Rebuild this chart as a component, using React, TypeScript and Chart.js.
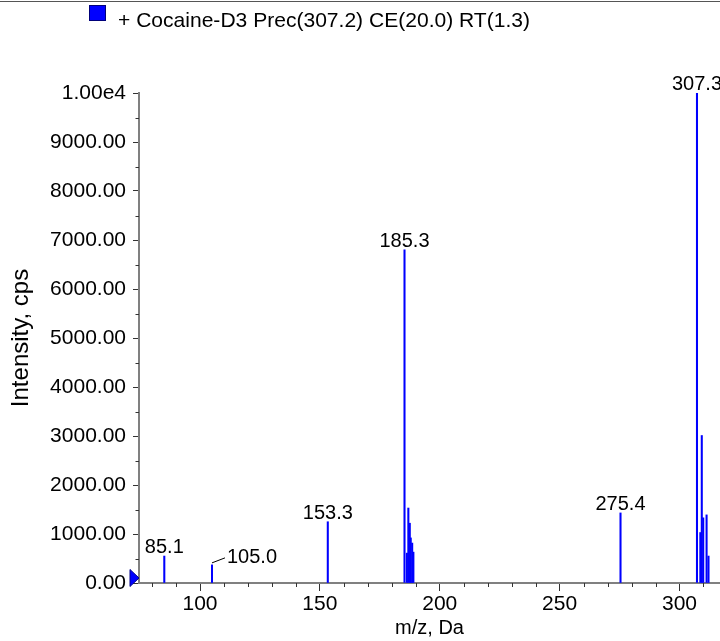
import { useEffect, useRef } from 'react';
import { Chart, registerables } from 'chart.js';

Chart.register(...registerables);

// Spectrum peaks (m/z, intensity in cps)
const mzValues = [85.1, 105.0, 153.3, 185.3, 186.3, 186.9, 187.5, 187.9, 188.5, 189.0, 275.4, 307.3, 308.7, 309.3, 309.9, 311.3, 312.1];
const intensities = [550, 370, 1250, 6800, 610, 1530, 1220, 920, 815, 630, 1430, 10000, 1030, 3010, 1330, 1390, 550];
const labeledPeaks = [85.1, 105.0, 153.3, 185.3, 275.4, 307.3];
const leaderLabelPeaks = [105.0];

const legendText = '+ Cocaine-D3 Prec(307.2) CE(20.0) RT(1.3)';
const xTitle = 'm/z, Da';
const yTitle = 'Intensity, cps';
const xMin = 74.55;
const xMax = 316.9;
const yMin = 0;
const yMax = 10000;
const xMajorStep = 50;
const xMinorStep = 10;
const yMajorStep = 1000;
const yMinorStep = 500;

const FONT = '"Liberation Sans", Arial, Helvetica, sans-serif';
const BLUE = '#0000ff';

function formatY(v: number): string {
  if (v >= 10000) return '1.00e4';
  return v.toFixed(2);
}

const decorPlugin = {
  id: 'decor',
  afterDraw(chart: any) {
    const ctx = chart.ctx as CanvasRenderingContext2D;
    const xs = chart.scales.x;
    const ys = chart.scales.y;
    const area = chart.chartArea;
    ctx.save();

    // top rule
    ctx.strokeStyle = '#555';
    ctx.lineWidth = 1;
    ctx.beginPath();
    ctx.moveTo(0, 1.5);
    ctx.lineTo(chart.width, 1.5);
    ctx.stroke();

    // legend swatch + text
    ctx.fillStyle = BLUE;
    ctx.fillRect(89, 5, 17, 16);
    ctx.strokeStyle = '#00007a';
    ctx.lineWidth = 1;
    ctx.strokeRect(89.5, 5.5, 16, 15);
    ctx.fillStyle = '#000';
    ctx.font = `21px ${FONT}`;
    ctx.textAlign = 'left';
    ctx.textBaseline = 'alphabetic';
    const w = ctx.measureText(legendText).width;
    const sx = 412 / w;
    ctx.save();
    ctx.translate(118, 27);
    ctx.scale(sx, 1);
    ctx.fillText(legendText, 0, 0);
    ctx.restore();

    // minor ticks
    ctx.strokeStyle = '#333';
    ctx.lineWidth = 1;
    ctx.beginPath();
    for (let v = Math.ceil(xMin / xMinorStep) * xMinorStep; v <= xMax; v += xMinorStep) {
      if (v % xMajorStep === 0) continue;
      const px = Math.round(xs.getPixelForValue(v)) + 0.5;
      ctx.moveTo(px, area.bottom);
      ctx.lineTo(px, area.bottom + 4);
    }
    for (let v = yMin; v <= yMax; v += yMinorStep) {
      if (v % yMajorStep === 0) continue;
      const py = Math.round(ys.getPixelForValue(v)) + 0.5;
      ctx.moveTo(area.left - 3.5, py);
      ctx.lineTo(area.left, py);
    }
    ctx.stroke();

    // zero marker triangle
    const y0 = ys.getPixelForValue(0) - 5;
    ctx.fillStyle = BLUE;
    ctx.strokeStyle = '#00008b';
    ctx.beginPath();
    ctx.moveTo(area.left - 9, y0 - 8.5);
    ctx.lineTo(area.left, y0);
    ctx.lineTo(area.left - 9, y0 + 8.5);
    ctx.closePath();
    ctx.fill();
    ctx.stroke();

    // peak labels
    ctx.font = `20px ${FONT}`;
    ctx.fillStyle = '#000';
    ctx.textBaseline = 'alphabetic';
    for (let i = 0; i < mzValues.length; i++) {
      const mz = mzValues[i];
      if (!labeledPeaks.includes(mz)) continue;
      const px = xs.getPixelForValue(mz);
      const py = ys.getPixelForValue(intensities[i]);
      const txt = mz.toFixed(1);
      if (leaderLabelPeaks.includes(mz)) {
        ctx.strokeStyle = '#000';
        ctx.lineWidth = 1;
        ctx.beginPath();
        ctx.moveTo(px, py - 2);
        ctx.lineTo(px + 13, py - 7);
        ctx.stroke();
        ctx.textAlign = 'left';
        ctx.fillText(txt, px + 15, py - 2);
      } else {
        ctx.textAlign = 'center';
        ctx.fillText(txt, px, py - 3);
      }
    }
    ctx.restore();
  },
};

export default function App() {
  const canvasRef = useRef<HTMLCanvasElement | null>(null);

  useEffect(() => {
    const canvas = canvasRef.current;
    if (!canvas) return;
    const points = mzValues.map((x, i) => ({ x, y: intensities[i] }));
    const chart = new Chart(canvas, {
      type: 'bar',
      data: {
        datasets: [
          {
            data: points as any,
            backgroundColor: BLUE,
            borderWidth: 0,
            barThickness: 1.4,
          },
        ],
      },
      options: {
        animation: false,
        responsive: false,
        maintainAspectRatio: false,
        devicePixelRatio: 1,
        events: [],
        layout: { padding: { top: 93, right: 0, left: 0, bottom: 0 } },
        plugins: {
          legend: { display: false },
          tooltip: { enabled: false },
          title: { display: false },
        },
        scales: {
          x: {
            type: 'linear',
            min: xMin,
            max: xMax,
            offset: false,
            afterFit: (s: any) => {
              s.height = 58;
            },
            afterBuildTicks: (s: any) => {
              const t = [];
              for (let v = Math.ceil(xMin / xMajorStep) * xMajorStep; v <= xMax; v += xMajorStep) t.push({ value: v });
              s.ticks = t;
            },
            grid: {
              display: true,
              drawOnChartArea: false,
              drawTicks: true,
              tickLength: 8,
              tickColor: '#333',
              offset: false,
            },
            border: { display: true, color: '#808080', width: 2 },
            ticks: {
              color: '#000',
              font: { family: FONT, size: 21 },
              padding: 1,
              maxRotation: 0,
              autoSkip: false,
              callback: (v: any) => String(Math.round(Number(v))),
            },
            title: {
              display: true,
              text: xTitle,
              color: '#000',
              font: { family: FONT, size: 20 },
              padding: { top: 0, bottom: 1 },
            },
          },
          y: {
            type: 'linear',
            min: yMin,
            max: yMax,
            afterFit: (s: any) => {
              s.width = 139;
            },
            afterBuildTicks: (s: any) => {
              const t = [];
              for (let v = yMin; v <= yMax; v += yMajorStep) t.push({ value: v });
              s.ticks = t;
            },
            grid: {
              display: true,
              drawOnChartArea: false,
              drawTicks: true,
              tickLength: 6,
              tickColor: '#333',
            },
            border: { display: true, color: '#808080', width: 2 },
            ticks: {
              color: '#000',
              font: { family: FONT, size: 21 },
              padding: 7,
              autoSkip: false,
              callback: (v: any) => formatY(Number(v)),
            },
            title: {
              display: true,
              text: yTitle,
              color: '#000',
              font: { family: FONT, size: 24 },
              padding: { top: 7, bottom: 0 },
            },
          },
        },
      },
      plugins: [decorPlugin],
    });
    return () => chart.destroy();
  }, []);

  return (
    <div style={{ position: 'fixed', left: 0, top: 0, width: 720, height: 641, background: '#fff' }}>
      <canvas ref={canvasRef} width={720} height={641} style={{ display: 'block' }} />
    </div>
  );
}
